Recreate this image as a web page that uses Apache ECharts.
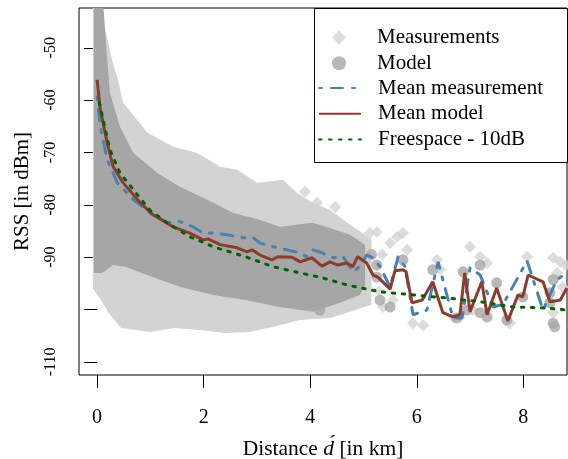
<!DOCTYPE html>
<html><head><meta charset="utf-8">
<script src="https://cdn.jsdelivr.net/npm/echarts@6/dist/echarts.min.js"></script>
<style>html,body{margin:0;padding:0;background:#fff}#c{width:568px;height:459px}</style>
</head><body><div id="c"></div>
<script>
// ---- tick values ----
const xTickValues = [0, 2, 4, 6, 8];
const yTickValues = [-50, -60, -70, -80, -90, -100, -110];
const yLabelValues = [-50, -60, -70, -80, -90, -110];

const measUpperX = [-0.08, 0.06, 0.28, 0.39, 0.49, 0.94, 1.43, 1.88, 2.31, 2.63, 3.0, 3.49, 3.75, 4.05, 4.37, 4.75, 5.15];
const measUpperY = [-42.4, -42.4, -52.3, -56.1, -60.5, -66.2, -68.9, -70.1, -72.7, -73.3, -75.8, -75.2, -77.7, -79.6, -81.0, -83.8, -86.5];
const measLowerX = [-0.08, 0.06, 0.24, 0.45, 0.99, 1.45, 1.93, 2.4, 2.87, 3.43, 3.81, 4.37, 4.75, 5.15];
const measLowerY = [-96, -98, -101, -103.5, -104.3, -103.5, -103.9, -104.5, -104.3, -103, -102, -101.6, -100.4, -99.1];
// sparse measurement points
const measPtsX = [3.9, 4.13, 4.47, 5.12, 5.25, 5.63, 5.74, 5.5, 5.82, 5.35, 6.38, 6.44, 7.0, 7.19, 7.32, 8.07, 8.56, 8.69, 8.63, 8.74, 8.8, 5.37, 5.55, 5.93, 6.12, 6.68, 6.81, 7.05, 7.75, 8.56, 5.3];
const measPtsY = [-77.5, -79.6, -80.4, -85.4, -85.2, -86.1, -85.4, -87.3, -88.6, -89.5, -90.5, -92.4, -88.0, -89.9, -91.1, -89.9, -90.1, -90.9, -93.0, -95.7, -91.5, -99.5, -98.2, -102.6, -103.0, -101.4, -101.4, -100.1, -102.6, -100.6, -96.5];

// ---- Model cloud: dense envelope ----
const modelUpperX = [-0.06, 0.12, 0.19, 0.24, 0.43, 0.68, 1.13, 1.56, 2.06, 2.55, 3.06, 3.43, 4.05, 4.37, 4.75, 5.03];
const modelUpperY = [-42.4, -42.4, -52.3, -58.6, -65.1, -70.1, -73.9, -76.6, -79.0, -81.5, -82.9, -84.2, -83.4, -84.4, -85.7, -87.6];
const modelLowerX = [-0.06, 0.1, 0.3, 0.53, 0.94, 1.56, 2.18, 2.81, 3.43, 4.05, 4.56, 4.93, 5.03];
const modelLowerY = [-93, -93, -91.5, -91.8, -93.4, -95.7, -97.2, -98.2, -99.5, -100.4, -98.7, -97.2, -95.3];
// sparse model points
const modelPtsX = [4.18, 5.15, 5.25, 5.25, 5.31, 5.5, 5.74, 6.3, 6.87, 7.19, 7.5, 6.75, 6.94, 7.19, 7.32, 7.69, 8.56, 8.5, 8.56, 8.5, 7.99, 8.59];
const modelPtsY = [-100.1, -89.5, -91.5, -93.8, -98.2, -99.5, -90.5, -92.4, -92.8, -91.5, -94.9, -101.6, -100.1, -100.6, -101.4, -102.0, -94.3, -98.7, -102.6, -96.8, -97.6, -103.3];

// ---- Mean measurement ----
const meanMeasX = [0, 0.06, 0.19, 0.38, 0.68, 0.99, 1.31, 1.56, 1.80, 1.99, 2.18, 2.44, 2.74, 2.93, 3.06, 3.30, 3.56, 3.81, 3.93, 4.05, 4.18, 4.31, 4.43, 4.62, 4.80, 4.93, 5.06, 5.18, 5.31, 5.50, 5.65, 5.78, 5.93, 6.19, 6.40, 6.68, 6.85, 7.0, 7.19, 7.43, 7.62, 8.07, 8.37, 8.63, 8.82];
const meanMeasY = [-59.4, -65.1, -71.4, -75.8, -79.0, -81.5, -83.4, -83.2, -84.2, -85.4, -85.4, -85.7, -86.3, -86.3, -87.3, -88.0, -88.6, -89.2, -89.9, -88.6, -89.0, -89.6, -90.1, -89.9, -92.8, -91.8, -89.6, -90.1, -91.8, -95.7, -89.9, -91.8, -101.0, -100.1, -90.9, -101.6, -101.6, -92.0, -93.4, -99.5, -99.0, -90.7, -100.1, -94.3, -93.0];

// ---- Mean model ----
const meanModelX = [0, 0.06, 0.19, 0.3, 0.49, 0.81, 1.05, 1.43, 1.74, 1.99, 2.08, 2.31, 2.63, 2.81, 2.91, 3.06, 3.28, 3.40, 3.66, 3.81, 4.03, 4.22, 4.37, 4.52, 4.69, 4.80, 4.89, 5.06, 5.18, 5.27, 5.50, 5.59, 5.74, 5.80, 5.91, 6.10, 6.30, 6.49, 6.68, 6.81, 6.90, 7.0, 7.22, 7.32, 7.5, 7.71, 7.9, 7.99, 8.09, 8.37, 8.5, 8.69, 8.82];
const meanModelY = [-56.1, -61.8, -68.2, -72.7, -75.8, -79.6, -81.9, -84.2, -85.4, -86.7, -86.5, -87.6, -88.2, -89.0, -88.6, -89.6, -90.5, -89.9, -90.0, -90.9, -90.1, -91.7, -90.9, -91.5, -91.1, -91.8, -89.9, -91.1, -93.4, -93.8, -96.1, -92.6, -92.4, -92.8, -98.7, -98.2, -94.7, -100.6, -101.4, -101.0, -93.0, -100.4, -94.7, -101.0, -95.9, -102.2, -97.2, -97.6, -93.4, -94.7, -98.5, -98.2, -95.9];

// ---- Freespace - 10dB ----
const freeX = [0.04, 0.06, 0.24, 0.43, 0.68, 0.99, 1.31, 1.74, 2.18, 2.81, 3.30, 3.81, 4.18, 4.69, 5.31, 5.93, 6.57, 7.19, 7.8, 8.44, 8.82];
const freeY = [-60.5, -61.3, -69.5, -73.9, -77.1, -81.0, -83.4, -86.1, -88.0, -90.0, -91.8, -93.0, -93.8, -95.3, -96.6, -97.2, -97.8, -98.5, -99.5, -99.7, -100.1];

const pointLegendNames = ['Measurements', 'Model'];
const lineLegendNames = ['Mean measurement', 'Mean model', 'Freespace - 10dB'];

const C_MEAS = '#D3D3D3', C_MODEL = '#A6A6A6', C_BLUE = '#4682B4', C_BROWN = '#8C3B2C', C_GREEN = '#006400';
const FONT = 'Liberation Serif';

const zip = (xs, ys) => xs.map((x, i) => [x, ys[i]]);

function band(name, ux, uy, lx, ly, color) {
  return {
    type: 'custom', name: name, silent: true,
    data: [[ux[0], uy[0]]],
    encode: { x: 0, y: 1 },
    renderItem: function (params, api) {
      const pts = [];
      for (let i = 0; i < ux.length; i++) pts.push(api.coord([ux[i], uy[i]]));
      for (let i = lx.length - 1; i >= 0; i--) pts.push(api.coord([lx[i], ly[i]]));
      return { type: 'polygon', shape: { points: pts }, style: { fill: color } };
    }
  };
}

const legendText = (pad) => ({ fontFamily: FONT, fontSize: 21, color: '#000', padding: [0, 0, 0, pad] });

const chart = echarts.init(document.getElementById('c'), null, { renderer: 'canvas' });
chart.setOption({
  animation: false,
  backgroundColor: '#fff',
  grid: { left: 79, top: 8, right: 1, bottom: 84, show: true, borderColor: '#000', borderWidth: 1, backgroundColor: 'transparent', containLabel: false, outerBoundsMode: 'none' },
  xAxis: {
    type: 'value', min: -0.34, max: 8.82,
    axisLine: { show: false },
    splitLine: { show: false },
    axisTick: { show: true, length: 13, lineStyle: { color: '#000' }, customValues: xTickValues },
    axisLabel: { customValues: xTickValues, margin: 33, color: '#000', fontFamily: FONT, fontSize: 20 },
    name: 'Distance {i|d\u0301} [in km]', nameLocation: 'middle', nameGap: 63,
    nameTextStyle: { color: '#000', fontFamily: FONT, fontSize: 21.5, rich: { i: { fontStyle: 'italic', fontFamily: FONT, fontSize: 21.5, color: '#000' } } }
  },
  yAxis: {
    type: 'value', min: -112.5, max: -42.4,
    axisLine: { show: false },
    splitLine: { show: false },
    axisTick: { show: true, length: 13, lineStyle: { color: '#000' }, customValues: yTickValues },
    axisLabel: { customValues: yLabelValues, rotate: 90, margin: 20, color: '#000', fontFamily: FONT, fontSize: 16 },
    name: 'RSS [in dBm]', nameLocation: 'middle', nameGap: 46,
    nameTextStyle: { color: '#000', fontFamily: FONT, fontSize: 21 }
  },
  legend: [{
    data: pointLegendNames, orient: 'vertical', left: 332, top: 27, padding: 0,
    itemWidth: 14, itemHeight: 14, itemGap: 4.7, z: 10,
    textStyle: legendText(26)
  }, {
    data: lineLegendNames.map(n => ({ name: n, itemStyle: { opacity: 0 } })),
    orient: 'vertical', left: 318, top: 77.6, padding: 0,
    itemWidth: 42, itemHeight: 14, itemGap: 4.7, z: 10,
    textStyle: legendText(12)
  }],
  graphic: [{
    type: 'rect', z: 5, silent: true,
    shape: { x: 314.5, y: 8.5, width: 253, height: 154 },
    style: { fill: '#fff', stroke: '#000', lineWidth: 1 }
  }],
  series: [
    band('measBand', measUpperX, measUpperY, measLowerX, measLowerY, C_MEAS),
    { type: 'scatter', name: 'Measurements', symbol: 'diamond', symbolSize: 12, itemStyle: { color: C_MEAS }, data: zip(measPtsX, measPtsY) },
    band('modelBand', modelUpperX, modelUpperY, modelLowerX, modelLowerY, C_MODEL),
    { type: 'scatter', name: 'Model', symbol: 'circle', symbolSize: 11, itemStyle: { color: C_MODEL }, data: zip(modelPtsX, modelPtsY) },
    { type: 'line', name: 'Mean measurement', symbol: 'none', showSymbol: false, data: zip(meanMeasX, meanMeasY),
      itemStyle: { color: C_BLUE }, lineStyle: { color: C_BLUE, width: 3, type: [3, 9, 12, 9], cap: 'round' } },
    { type: 'line', name: 'Mean model', symbol: 'none', showSymbol: false, data: zip(meanModelX, meanModelY),
      itemStyle: { color: C_BROWN }, lineStyle: { color: C_BROWN, width: 3 } },
    { type: 'line', name: 'Freespace - 10dB', symbol: 'none', showSymbol: false, data: zip(freeX, freeY),
      itemStyle: { color: C_GREEN }, lineStyle: { color: C_GREEN, width: 3, type: [2.5, 7.5], cap: 'round' } }
  ]
});
</script>
</body></html>
